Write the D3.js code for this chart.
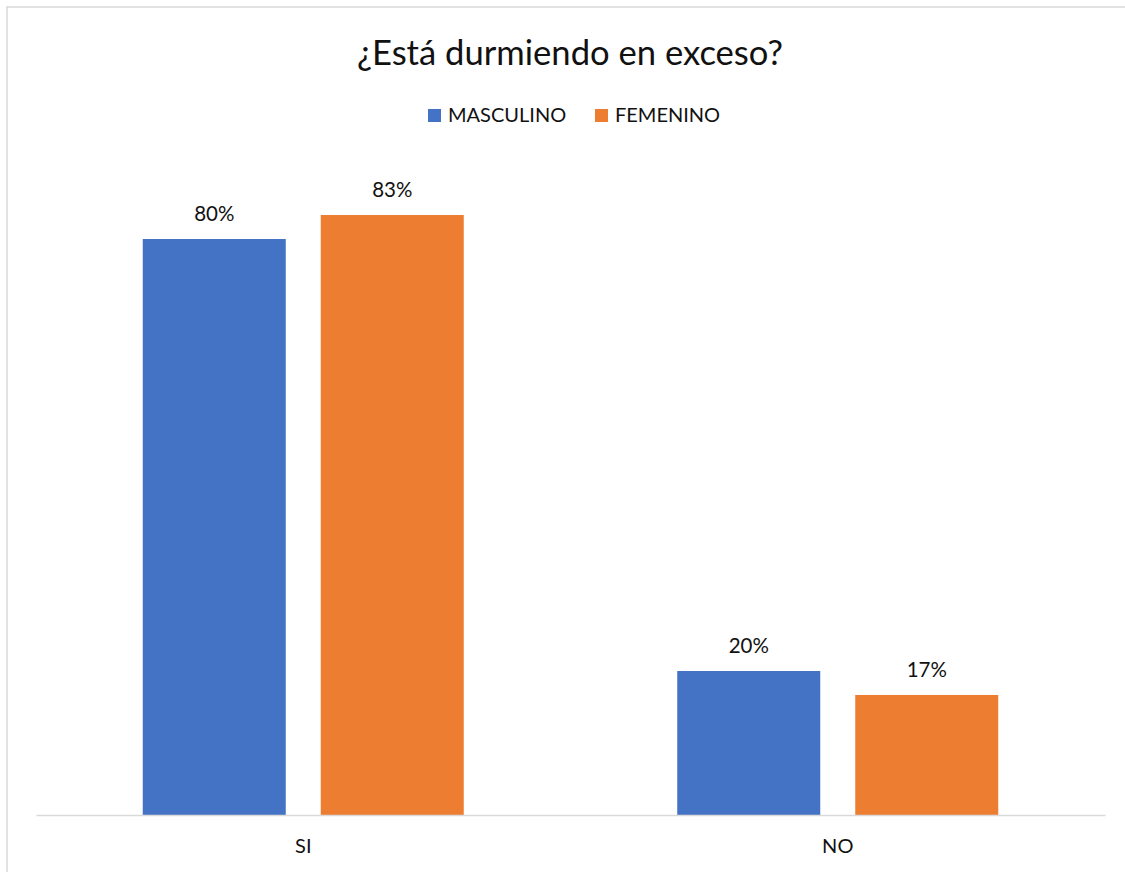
<!DOCTYPE html>
<html><head><meta charset="utf-8">
<script src="https://cdn.jsdelivr.net/npm/d3@7"></script>
<style>body{margin:0;background:#fff}svg{display:block}</style>
</head><body>
<script>
const categories = ["SI", "NO"];
const seriesNames = ["MASCULINO", "FEMENINO"];
const masculino = [0.80, 0.20];
const femenino = [0.8333, 0.1667];
const labelsMasc = ["80%", "20%"];
const labelsFem = ["83%", "17%"];
const colors = ["#4472C4", "#ED7D31"];
const title = "¿Está durmiendo en exceso?";

const W = 1125, H = 872;
const FONT = "Lato, 'Open Sans', sans-serif";
const svg = d3.select("body").append("svg").attr("width", W).attr("height", H);
svg.append("rect").attr("x", 7).attr("y", 7).attr("width", W + 10).attr("height", H + 10)
  .attr("fill", "#fff").attr("stroke", "#d9d9d9").attr("stroke-width", 1.5);

const x0 = d3.scaleBand().domain(categories).range([36, 1105]).paddingInner(0).paddingOuter(0);
const outer = 106.75;
const x1 = d3.scaleBand().domain(seriesNames).range([outer, x0.bandwidth() - outer]).paddingInner(0.1966).paddingOuter(0);
const y = d3.scaleLinear().domain([0, 1]).range([815, 95]);

const rows = categories.map((c, i) => ({cat: c, vals: [
  {s: seriesNames[0], v: masculino[i], l: labelsMasc[i], c: colors[0]},
  {s: seriesNames[1], v: femenino[i], l: labelsFem[i], c: colors[1]}]}));

const g = svg.append("g");
const grp = g.selectAll("g.cat").data(rows).join("g").attr("transform", d => `translate(${x0(d.cat)},0)`);
grp.selectAll("rect").data(d => d.vals).join("rect")
  .attr("x", d => x1(d.s)).attr("width", x1.bandwidth())
  .attr("y", d => y(d.v)).attr("height", d => y(0) - y(d.v)).attr("fill", d => d.c);
grp.selectAll("text").data(d => d.vals).join("text")
  .attr("x", d => x1(d.s) + x1.bandwidth() / 2).attr("y", d => y(d.v) - 18)
  .attr("text-anchor", "middle").attr("font-family", FONT).attr("font-size", 20.5).attr("fill", "#111")
  .text(d => d.l);

// axis
const ax = svg.append("g").attr("transform", "translate(0,815)")
  .call(d3.axisBottom(x0).tickSize(0).tickPadding(0));
ax.select(".domain").attr("stroke", "#d9d9d9").attr("stroke-width", 1.5);
ax.selectAll("text").attr("font-family", FONT).attr("font-size", 20).attr("fill", "#111").attr("dy", 0).attr("y", 38);

// title
const t = svg.append("text").attr("x", 570).attr("y", 65).attr("text-anchor", "middle")
  .attr("font-family", FONT).attr("font-size", 32).attr("fill", "#111").text(title);
const tw = t.node().getComputedTextLength();
t.attr("font-size", 32 * 426 / tw);

// legend
const leg = svg.append("g");
const legX = [428, 595];
seriesNames.forEach((s, i) => {
  leg.append("rect").attr("x", legX[i]).attr("y", 109).attr("width", 13).attr("height", 13).attr("fill", colors[i]);
  leg.append("text").attr("x", legX[i] + 20).attr("y", 122).attr("font-family", FONT).attr("font-size", 20)
    .attr("fill", "#111").text(s);
});
</script>
</body></html>
